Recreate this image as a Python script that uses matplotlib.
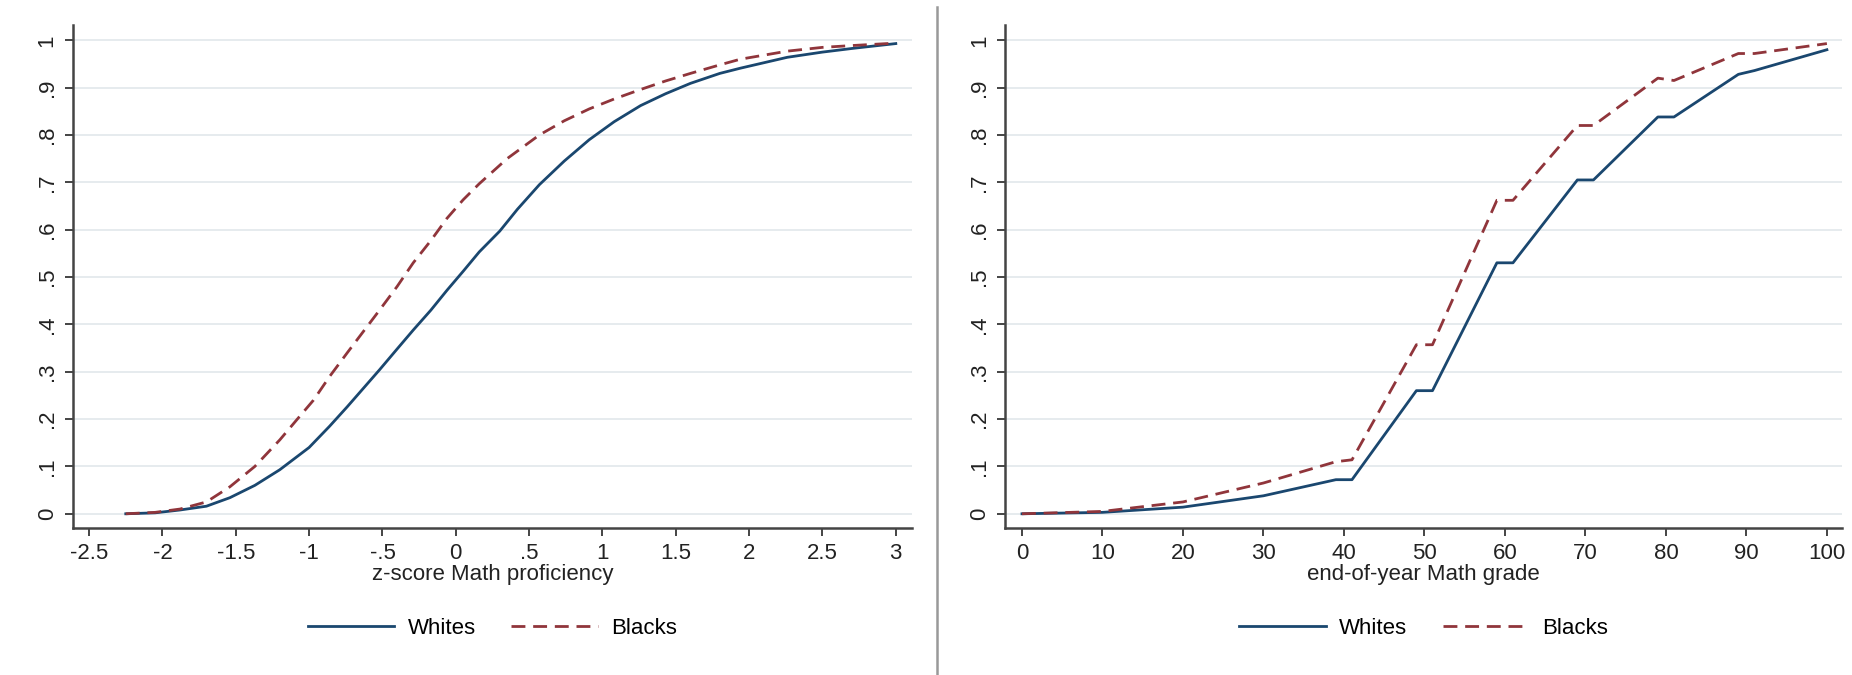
import numpy as np
import matplotlib.pyplot as plt
from matplotlib.lines import Line2D

plt.rcParams['font.family'] = ['Liberation Sans', 'DejaVu Sans']

# cumulative distributions, left: standardized proficiency score
z_w = [-2.25, -2.05, -1.88, -1.7, -1.54, -1.37, -1.2, -1.0, -0.86, -0.74,
       -0.63, -0.52, -0.4, -0.29, -0.17, -0.06, 0.05, 0.16, 0.3, 0.42,
       0.57, 0.74, 0.91, 1.08, 1.26, 1.43, 1.6, 1.8, 1.94, 2.26, 2.5,
       2.71, 3.0]
cdf_w = [0.0, 0.002, 0.008, 0.016, 0.034, 0.06, 0.093, 0.14, 0.185, 0.226,
         0.265, 0.304, 0.348, 0.388, 0.43, 0.472, 0.512, 0.553, 0.597, 0.643,
         0.695, 0.745, 0.79, 0.828, 0.862, 0.887, 0.909, 0.93, 0.941, 0.964,
         0.975, 0.983, 0.993]

z_b = [-2.25, -2.05, -1.88, -1.7, -1.54, -1.37, -1.2, -1.08, -0.97, -0.86,
       -0.74, -0.63, -0.52, -0.4, -0.29, -0.17, -0.06, 0.05, 0.16, 0.35,
       0.57, 0.74, 0.91, 1.08, 1.26, 1.43, 1.6, 1.8, 1.94, 2.26, 2.5,
       2.71, 3.0]
cdf_b = [0.0, 0.003, 0.01, 0.025, 0.057, 0.1, 0.156, 0.2, 0.24, 0.29,
         0.34, 0.385, 0.43, 0.48, 0.53, 0.577, 0.624, 0.663, 0.697, 0.75,
         0.80, 0.83, 0.855, 0.876, 0.896, 0.914, 0.93, 0.948, 0.96, 0.977,
         0.985, 0.989, 0.994]

# right: end-of-year grade
grade = [0, 10, 20, 30, 39, 41, 49, 51, 59, 61, 69, 71, 79, 81, 89, 91, 100]
g_whites = [0.0, 0.003, 0.014, 0.038, 0.072, 0.072, 0.26, 0.26, 0.53, 0.53,
            0.705, 0.705, 0.838, 0.838, 0.928, 0.936, 0.98]
g_blacks = [0.0, 0.005, 0.025, 0.065, 0.11, 0.114, 0.357, 0.357, 0.662, 0.662,
            0.82, 0.82, 0.92, 0.915, 0.972, 0.972, 0.993]

yticks = np.round(np.arange(0, 1.01, 0.1), 1)
ylabels = ['0', '.1', '.2', '.3', '.4', '.5', '.6', '.7', '.8', '.9', '1']

navy = '#1a476f'
maroon = '#90353b'
fs = 16
lw = 2.0

fig = plt.figure(figsize=(18.52, 6.75), dpi=100)
ax1 = fig.add_axes([0.0394, 0.2178, 0.453, 0.745])
ax2 = fig.add_axes([0.5427, 0.2178, 0.452, 0.745])


def style(ax, xticks, xlabels, xlim, xlabel):
    for s in ['top', 'right']:
        ax.spines[s].set_visible(False)
    for s in ['left', 'bottom']:
        ax.spines[s].set_color('#444444')
        ax.spines[s].set_linewidth(1.8)
    ax.set_ylim(-0.03, 1.032)
    ax.set_xlim(*xlim)
    ax.set_yticks(yticks)
    ax.set_yticklabels(ylabels, rotation=90, va='center')
    ax.set_xticks(xticks)
    ax.set_xticklabels(xlabels)
    ax.tick_params(length=6, width=1.4, color='#444444', labelsize=fs,
                   labelcolor='#222222', pad=5)
    ax.grid(axis='y', color='#e6ebee', lw=1.4)
    ax.set_axisbelow(True)
    ax.set_xlabel(xlabel, fontsize=fs, color='#222222', labelpad=0)
    handles = [Line2D([], [], color=navy, lw=lw),
               Line2D([], [], color=maroon, lw=lw, dashes=(5, 2.8))]
    ax.legend(handles, ['Whites', 'Blacks'], loc='center',
              bbox_to_anchor=(0.5, -0.2), ncol=2, frameon=False, fontsize=fs,
              handlelength=3.9, handletextpad=0.6, columnspacing=1.6)


ax1.plot(z_w, cdf_w, color=navy, lw=lw)
ax1.plot(z_b, cdf_b, color=maroon, lw=lw, dashes=(5, 2.8))
style(ax1, [-2.5, -2, -1.5, -1, -0.5, 0, 0.5, 1, 1.5, 2, 2.5, 3],
      ['-2.5', '-2', '-1.5', '-1', '-.5', '0', '.5', '1', '1.5', '2', '2.5', '3'],
      (-2.61, 3.11), 'z-score Math proficiency')

ax2.plot(grade, g_whites, color=navy, lw=lw)
ax2.plot(grade, g_blacks, color=maroon, lw=lw, dashes=(5, 2.8))
style(ax2, list(range(0, 101, 10)), [str(v) for v in range(0, 101, 10)],
      (-2.1, 101.9), 'end-of-year Math grade')

# separator between the two panels
fig.add_artist(Line2D([0.506, 0.506], [0.0, 0.99], color='#999999', lw=1.8,
                      transform=fig.transFigure))

fig.savefig('out.png', dpi=100)
